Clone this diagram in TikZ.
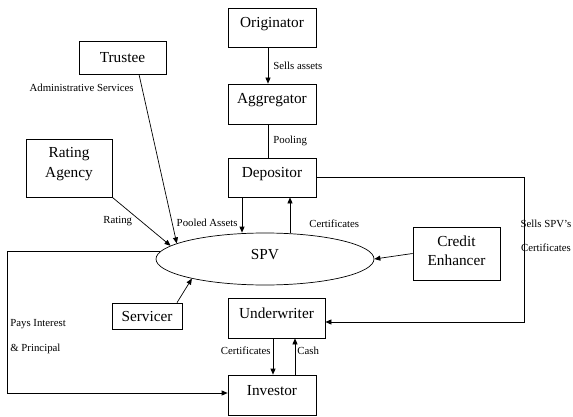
\documentclass[tikz,border=0pt]{standalone}
\usepackage{fontspec}
\setmainfont{Liberation Serif}
\usepackage{tikz}
\usetikzlibrary{shapes.geometric, arrows.meta, positioning, calc}
\newcommand{\boxfont}{\fontsize{15.3}{19.5}\selectfont}
\newcommand{\lblfont}{\fontsize{10.8}{13}\selectfont}
\newcommand{\lblwide}{\fontsize{10.8}{24.5}\selectfont}

\begin{document}
\begin{tikzpicture}[x=1pt, y=-1pt,
  party/.style={draw, line width=0.7pt, font=\boxfont, inner sep=0pt, text height=11pt, text depth=11pt},
  partyc/.style={draw, line width=0.7pt, font=\boxfont, inner sep=0pt, text height=13pt, text depth=3pt},
  partytwo/.style={draw, line width=0.7pt, inner sep=0pt},
  twotext/.style={font=\boxfont, align=center, inner sep=0pt},
  flow/.style={line width=0.7pt, -{Triangle[length=6pt,width=5pt]}},
  link/.style={line width=0.7pt},
  lbl/.style={font=\lblfont, inner sep=1pt}]
\useasboundingbox (0,0) rectangle (573,417);

% Boxes
\node[party, minimum width=88, minimum height=39] (orig) at (272,27.5) {Originator};
\node[party, minimum width=88, minimum height=40] (aggr) at (272,104) {Aggregator};
\node[party, minimum width=88, minimum height=39] (depo) at (272,177.5) {Depositor};
\node[partyc, minimum width=87, minimum height=33] (trustee) at (122.5,57.5) {Trustee};
\node[partytwo, minimum width=86, minimum height=58,
  label={[twotext, yshift=4pt]center:Rating\\Agency}] (rating) at (69,168) {};
\node[party, ellipse, minimum width=218, minimum height=52] (spv) at (265,259) {SPV};
\node[partytwo, minimum width=87, minimum height=53,
  label={[twotext, yshift=2.5pt]center:Credit\\Enhancer}] (credit) at (456.5,253.5) {};
\node[party, minimum width=97, minimum height=40] (under) at (276.5,318) {Underwriter};
\node[party, minimum width=88, minimum height=40] (inv) at (272,395) {Investor};
\node[partyc, minimum width=70, minimum height=26] (serv) at (147,316) {Servicer};

% Arrows
\draw[flow] ([xshift=-4pt]orig.south) -- node[lbl, right=4pt] {Sells assets} ([xshift=-4pt]aggr.north);
\draw[link] ([xshift=-4pt]aggr.south) -- node[lbl, right=4pt] {Pooling} ([xshift=-4pt]depo.north);
\draw[flow] ([xshift=-30pt]depo.south) -- node[lbl, pos=0.72, left=3pt] {Pooled Assets} ([xshift=-23pt]spv.north);
\draw[flow] ([xshift=25pt]spv.north) -- node[lbl, pos=0.25, right=18pt] {Certificates} ([xshift=18pt]depo.south);
\draw[flow] ([xshift=16.5pt]trustee.south) -- node[lbl, pos=0.08, left=7pt] {Administrative Services} (spv.170);
\draw[flow] (rating.south east) -- node[lbl, pos=0.5, left=8pt] {Rating} (spv.172);
\draw[flow] (credit.west) -- (spv.east);
\draw[flow] ([xshift=30pt]serv.north) -- (spv.195);

\coordinate (sellturn) at (524,322);
\draw[flow] (depo.east) -| (sellturn) -- (sellturn -| under.east);
\node[lbl, font=\lblwide, align=center] (sellslbl) at (546,236) {Sells SPV’s\\Certificates};

\draw[flow] ([xshift=-3.5pt]under.south) -- node[lbl, pos=0.35, left=1pt] {Certificates} ([xshift=1pt]inv.north);
\draw[flow] ([xshift=23pt]inv.north) -- node[lbl, pos=0.65, right=1pt] {Cash} ([xshift=18.5pt]under.south);

\coordinate (paycorner) at (7,393);
\draw[flow] (spv.176) -- (spv.176 -| paycorner) |- node[lbl, font=\lblwide, align=left, pos=0.3, right=2pt] {Pays Interest\\\& Principal} ([yshift=2pt]inv.west);
\end{tikzpicture}
\end{document}
